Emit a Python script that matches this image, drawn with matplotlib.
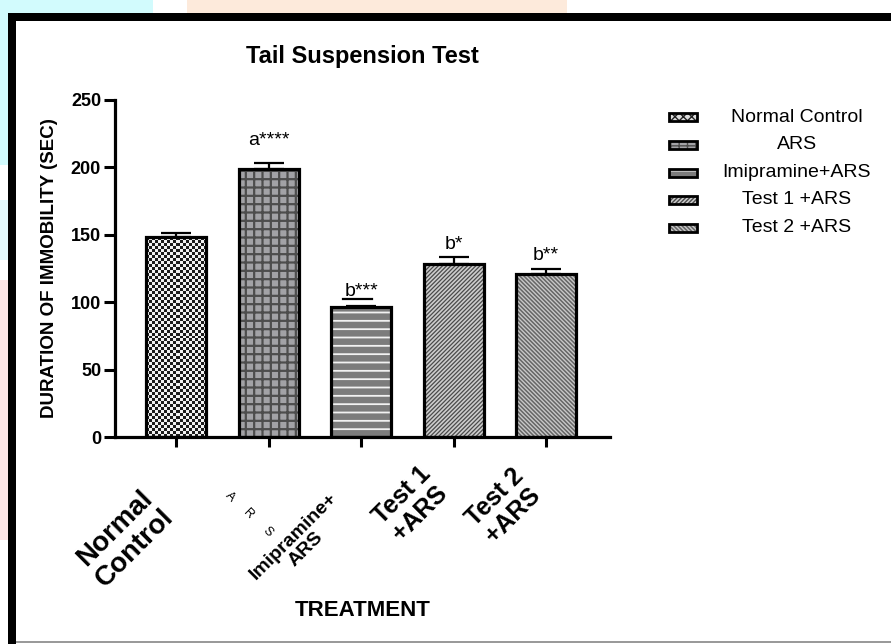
import numpy as np
import matplotlib.pyplot as plt
import matplotlib.transforms as mtransforms
from matplotlib.colors import ListedColormap
from matplotlib.patches import Rectangle

plt.rcParams['font.family'] = ['Liberation Sans', 'DejaVu Sans']

groups = ["Normal Control", "ARS", "Imipramine+ARS", "Test 1 +ARS", "Test 2 +ARS"]
tick_labels = ["Normal\nControl", "ARS", "Imipramine+\nARS", "Test 1\n+ARS", "Test 2\n+ARS"]
means = [148, 198.5, 96.5, 128.5, 121]
sems = [3, 4.5, 1, 5, 4]
sig_labels = ["", "a****", "b***", "b*", "b**"]
yticks = [0, 50, 100, 150, 200, 250]

# bar fills: face colour, hatch, hatch colour, hatch width
styles = [
    dict(face="white", hatch=None, hcolor="black", hlw=1.0),   # checkerboard image on top
    dict(face="#a2a2a6", hatch="++", hcolor="#4d4d4d", hlw=1.6),
    dict(face="#7c7c7c", hatch="--", hcolor="#f2f2f2", hlw=1.3),
    dict(face="#cdcdcd", hatch="////////", hcolor="#4a4a4a", hlw=0.9),
    dict(face="#666666", hatch="\\\\\\\\\\\\\\\\", hcolor="#c8c8c8", hlw=1.0),
]
# per-label font size and (dx, dy) offset in pixels for the rotated category names
label_sizes = [20, 9, 14, 18, 18]
label_offsets = [(3, -47), None, (-8, -52), (0, -25), (0, -27)]
sig_gaps = [0, 13, 7, 6, 6]

W, H = 891, 644


def fbox(x, y, w, h):
    return (x / W, 1 - (y + h) / H, w / W, h / H)


fig = plt.figure(figsize=(W / 100, H / 100), dpi=100)
fig.patch.set_facecolor("white")

# page background and frame
for (bx, by, bw, bh, c) in [(0, 0, 153, 13, "#d2fbfd"), (187, 0, 380, 13, "#fdeadb"),
                            (0, 0, 8, 165, "#d2fbfd"), (0, 200, 8, 60, "#e3f8fb"),
                            (0, 280, 8, 260, "#fde6e6")]:
    fig.add_artist(Rectangle(fbox(bx, by, bw, bh)[:2], bw / W, bh / H,
                             transform=fig.transFigure, color=c, lw=0, zorder=0))
fig.add_artist(Rectangle(fbox(8, 13, W - 8, 8)[:2], (W - 8) / W, 8 / H,
                         transform=fig.transFigure, color="black", lw=0, zorder=1))
fig.add_artist(Rectangle(fbox(8, 13, 8, H - 13)[:2], 8 / W, (H - 13) / H,
                         transform=fig.transFigure, color="black", lw=0, zorder=1))
fig.add_artist(Rectangle(fbox(16, 641, W - 16, 2)[:2], (W - 16) / W, 2 / H,
                         transform=fig.transFigure, color="#9a9a9a", lw=0, zorder=1))

ax = fig.add_axes([115 / W, 1 - 437 / H, 495 / W, 337 / H])
x = np.arange(len(groups))
width = 0.65
ax.set_xlim(-0.66, 4.69)
ax.set_ylim(0, 250)

bars = []
for i, st in enumerate(styles):
    b = ax.bar(x[i], means[i], width, color=st["face"], edgecolor=st["hcolor"],
               linewidth=0, hatch=st["hatch"], zorder=2)[0]
    if hasattr(b, "set_hatch_linewidth"):
        b.set_hatch_linewidth(st["hlw"])
    bars.append(b)

# checkerboard fill for the control bar
b0 = bars[0]
p0 = ax.transData.transform((x[0] - width / 2, 0))
p1 = ax.transData.transform((x[0] + width / 2, means[0]))
nx = int(round((p1[0] - p0[0]) / 3))
ny = int(round((p1[1] - p0[1]) / 3))
checker = np.add.outer(np.arange(ny), np.arange(nx)) % 2
im = ax.imshow(checker, cmap=ListedColormap(["#1c1c1c", "#f2f2f2"]),
               extent=(x[0] - width / 2, x[0] + width / 2, 0, means[0]),
               aspect="auto", interpolation="nearest", zorder=2)
im.set_clip_path(b0)
ax.set_xlim(-0.66, 4.69)
ax.set_ylim(0, 250)

ax.bar(x, means, width, fill=False, edgecolor="black", linewidth=2.3, zorder=3)
ax.errorbar(x, means, yerr=[np.zeros(len(x)), sems], fmt="none", ecolor="black",
            elinewidth=1.6, capsize=11, capthick=1.6, zorder=4)

for i, s in enumerate(sig_labels):
    if not s:
        continue
    ax.annotate(s, xy=(x[i], means[i] + sems[i]), xytext=(0, sig_gaps[i]),
                textcoords="offset points", ha="center", va="baseline", fontsize=14)
# underline under b***
ul = mtransforms.offset_copy(ax.transData, fig=fig, x=0, y=5, units="points")
ax.plot([x[2] - 0.2, x[2] + 0.12], [means[2] + sems[2]] * 2, color="black",
        lw=1.6, transform=ul, clip_on=False)

for sp in ["top", "right"]:
    ax.spines[sp].set_visible(False)
for sp in ["left", "bottom"]:
    ax.spines[sp].set_linewidth(2.3)

ax.set_yticks(yticks)
ax.set_yticklabels([str(t) for t in yticks], fontsize=13, fontweight="bold")
ax.tick_params(axis="y", length=8, width=2.2, pad=2)
ax.set_xticks(x)
ax.set_xticklabels([])
ax.tick_params(axis="x", length=7, width=2.2)

xt = ax.get_xaxis_transform()
for i, lab in enumerate(tick_labels):
    if label_offsets[i] is None:
        # ARS name is set as small separate letters running down the diagonal
        for k, ch in enumerate(lab):
            ax.annotate(ch, xy=(x[i], 0), xycoords=xt,
                        xytext=(-39 + 19 * k, -60 - 17.5 * k), textcoords="offset pixels",
                        ha="center", va="center", rotation=-45, fontsize=label_sizes[i],
                        annotation_clip=False)
        continue
    ax.annotate(lab, xy=(x[i], 0), xycoords=xt, xytext=label_offsets[i],
                textcoords="offset pixels", ha="right", va="top", rotation=45,
                multialignment="center", fontsize=label_sizes[i], fontweight="bold",
                linespacing=1.1, annotation_clip=False)

ax.set_ylabel("DURATION OF IMMOBILITY (SEC)", fontsize=13.5, fontweight="bold")
ax.yaxis.set_label_coords(-0.115, 0.5)
ax.set_xlabel("TREATMENT", fontsize=16, fontweight="bold")
ax.xaxis.set_label_coords(0.5, -0.4837)

fig.text(362 / W, 1 - 57 / H, "Tail Suspension Test", ha="center", va="center",
         fontsize=17, fontweight="bold")

# legend drawn as small boxes with centred names
row_y = [117, 145, 173, 200, 228]
for i, name in enumerate(groups):
    st = styles[i]
    hx, hy = fbox(669, row_y[i] - 4, 28, 8)[:2]
    face = "#dddddd" if i == 0 else st["face"]
    hatch = "xxxx" if i == 0 else st["hatch"]
    hc = "#222222" if i == 0 else st["hcolor"]
    r = Rectangle((hx, hy), 28 / W, 8 / H, transform=fig.transFigure,
                  facecolor=face, edgecolor=hc, hatch=hatch, lw=0)
    fig.add_artist(r)
    fig.add_artist(Rectangle((hx, hy), 28 / W, 8 / H, transform=fig.transFigure,
                             fill=False, edgecolor="black", lw=2))
    fig.text(797 / W, 1 - row_y[i] / H, name, ha="center", va="center", fontsize=14)

fig.savefig("out.png", dpi=100)
